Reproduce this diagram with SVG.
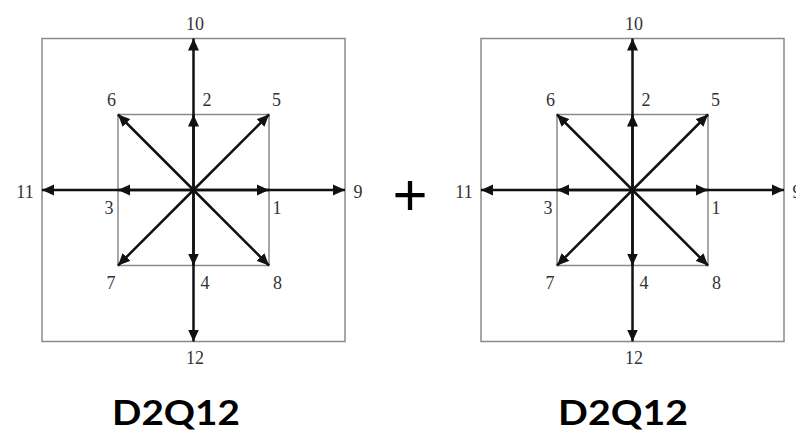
<svg xmlns="http://www.w3.org/2000/svg" xmlns:xlink="http://www.w3.org/1999/xlink" width="796" height="433" viewBox="0 0 796 433">
  <style>
    .frame { fill: none; stroke: #8a8a8a; stroke-width: 1.5; }
    .vec { fill: none; stroke: #111; stroke-width: 2.5; marker-end: url(#head); }
    .num { font-family: "Liberation Serif", "Times New Roman", serif; font-size: 18px; fill: #333; text-anchor: middle; }
    .title { font-family: Lato, "Open Sans", sans-serif; font-weight: 700; font-size: 35px; fill: #000; text-anchor: middle; }
    .plus { font-family: "Liberation Sans", Arial, sans-serif; font-weight: 400; font-size: 60px; fill: #000; text-anchor: middle; }
  </style>
  <defs>
    <marker id="head" viewBox="0 0 12 12" refX="12" refY="6" markerWidth="12" markerHeight="12" orient="auto" markerUnits="userSpaceOnUse">
      <path d="M0,0.5 L12,6 L0,11.5 Z" fill="#111"/>
    </marker>
    <!-- one D2Q12 velocity lattice, centred on its origin -->
    <g id="lattice">
      <rect class="frame" x="-151.5" y="-151.5" width="303" height="303"/>
      <rect class="frame" x="-75.5" y="-75.5" width="151" height="151"/>
      <g class="connectors">
        <!-- first shell: 1..8 -->
        <line class="vec" x1="0" y1="0" x2="75.5" y2="0"/>
        <line class="vec" x1="0" y1="0" x2="0" y2="-75.5"/>
        <line class="vec" x1="0" y1="0" x2="-75.5" y2="0"/>
        <line class="vec" x1="0" y1="0" x2="0" y2="75.5"/>
        <line class="vec" x1="0" y1="0" x2="75.5" y2="-75.5"/>
        <line class="vec" x1="0" y1="0" x2="-75.5" y2="-75.5"/>
        <line class="vec" x1="0" y1="0" x2="-75.5" y2="75.5"/>
        <line class="vec" x1="0" y1="0" x2="75.5" y2="75.5"/>
        <!-- second shell: 9..12 -->
        <line class="vec" x1="0" y1="0" x2="151.5" y2="0"/>
        <line class="vec" x1="0" y1="0" x2="0" y2="-151.5"/>
        <line class="vec" x1="0" y1="0" x2="-151.5" y2="0"/>
        <line class="vec" x1="0" y1="0" x2="0" y2="151.5"/>
      </g>
      <g class="labels">
        <text class="num" x="83.5" y="24">1</text>
        <text class="num" x="13.5" y="-84">2</text>
        <text class="num" x="-84.5" y="24">3</text>
        <text class="num" x="11.5" y="99">4</text>
        <text class="num" x="83" y="-84">5</text>
        <text class="num" x="-82" y="-84">6</text>
        <text class="num" x="-82.5" y="99">7</text>
        <text class="num" x="84" y="99">8</text>
        <text class="num" x="164.5" y="8">9</text>
        <text class="num" x="1.5" y="-160">10</text>
        <text class="num" x="-168.5" y="8">11</text>
        <text class="num" x="1.5" y="174">12</text>
      </g>
    </g>
  </defs>

  <rect width="796" height="433" fill="#fff"/>

  <g id="lattice-left">
    <use xlink:href="#lattice" href="#lattice" transform="translate(193.5,190)"/>
    <text class="title" x="176" y="425" textLength="128" lengthAdjust="spacingAndGlyphs">D2Q12</text>
  </g>

  <g id="plus-sign">
    <text class="plus" x="410" y="215">+</text>
  </g>

  <g id="lattice-right">
    <use xlink:href="#lattice" href="#lattice" transform="translate(632.5,190)"/>
    <text class="title" x="623" y="425" textLength="130" lengthAdjust="spacingAndGlyphs">D2Q12</text>
  </g>
</svg>
